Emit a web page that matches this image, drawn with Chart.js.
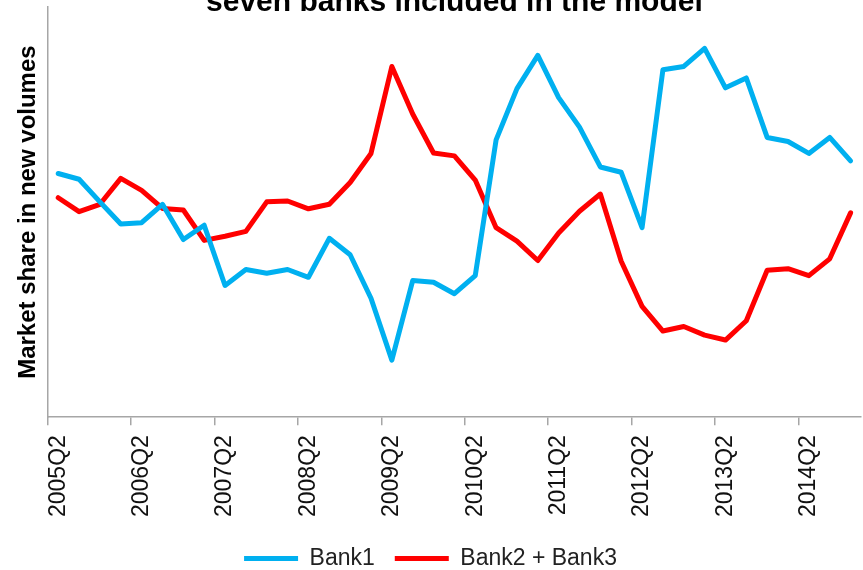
<!DOCTYPE html>
<html lang="en">
<head>
    <meta charset="UTF-8">
    <title>Market share in new volumes</title>
    <script src="https://cdn.jsdelivr.net/npm/chart.js"></script>
    <style>
        body {
            margin: 0;
            background: #fff;
            overflow: hidden;
        }
        .chart-container {
            width: 863px;
            height: 570px;
            position: relative;
        }
    </style>
</head>
<body>
    <div class="chart-container">
        <canvas id="shareChart"></canvas>
    </div>

    <script>
        // quarters 2005Q2 - 2014Q4
        const quarters = [
            '2005Q2', '2005Q3', '2005Q4', '2006Q1', '2006Q2', '2006Q3', '2006Q4', '2007Q1',
            '2007Q2', '2007Q3', '2007Q4', '2008Q1', '2008Q2', '2008Q3', '2008Q4', '2009Q1',
            '2009Q2', '2009Q3', '2009Q4', '2010Q1', '2010Q2', '2010Q3', '2010Q4', '2011Q1',
            '2011Q2', '2011Q3', '2011Q4', '2012Q1', '2012Q2', '2012Q3', '2012Q4', '2013Q1',
            '2013Q2', '2013Q3', '2013Q4', '2014Q1', '2014Q2', '2014Q3', '2014Q4'
        ];

        // values (no scale shown, index 0-100)
        const bank1 = [
            59.4, 58.0, 52.5, 47.1, 47.4, 51.9, 43.3, 46.8,
            32.1, 36.0, 35.1, 36.0, 34.1, 43.6, 39.6, 29.0,
            13.9, 33.3, 32.9, 30.1, 34.5, 67.6, 80.1, 88.2,
            77.9, 70.7, 61.0, 59.7, 46.2, 84.7, 85.5, 89.9,
            80.3, 82.7, 68.2, 67.2, 64.3, 68.2, 62.5
        ];
        const bank2and3 = [
            53.5, 50.1, 51.9, 58.2, 55.3, 50.9, 50.5, 43.1,
            44.1, 45.3, 52.5, 52.7, 50.8, 51.9, 57.2, 64.3,
            85.5, 73.9, 64.4, 63.7, 57.8, 46.2, 42.9, 38.2,
            44.9, 50.2, 54.4, 38.0, 27.0, 21.0, 22.1, 20.0,
            18.8, 23.5, 35.8, 36.2, 34.5, 38.6, 49.8
        ];

        const FONT = "'Liberation Sans', Arial, sans-serif";
        const axisGrey = '#A6A6A6';

        const ctx = document.getElementById('shareChart').getContext('2d');
        new Chart(ctx, {
            type: 'line',
            data: {
                labels: quarters,
                datasets: [{
                    label: 'Bank1',
                    data: bank1,
                    borderColor: '#00B0F0',
                    backgroundColor: '#00B0F0',
                    borderWidth: 5,
                    pointRadius: 0,
                    tension: 0,
                    borderJoinStyle: 'round',
                    borderCapStyle: 'round'
                }, {
                    label: 'Bank2 + Bank3',
                    data: bank2and3,
                    borderColor: '#FF0000',
                    backgroundColor: '#FF0000',
                    borderWidth: 5,
                    pointRadius: 0,
                    tension: 0,
                    borderJoinStyle: 'round',
                    borderCapStyle: 'round'
                }]
            },
            options: {
                responsive: true,
                maintainAspectRatio: false,
                animation: false,
                layout: {
                    padding: { top: 0, right: 2, bottom: -10, left: 0 }
                },
                plugins: {
                    title: {
                        display: true,
                        fullSize: false,
                        text: 'seven banks included in the model',
                        color: '#000',
                        font: { family: FONT, size: 30, weight: 'bold', lineHeight: 0.2 },
                        padding: { top: 0, bottom: 1 }
                    },
                    legend: {
                        position: 'bottom',
                        labels: {
                            color: '#222',
                            font: { family: FONT, size: 23 },
                            usePointStyle: true,
                            pointStyle: 'line',
                            pointStyleWidth: 54,
                            padding: 20
                        }
                    },
                    tooltip: { enabled: false }
                },
                scales: {
                    x: {
                        offset: true,
                        // the empty labels only make room for themselves; drop that side padding
                        afterFit: function (scale) {
                            scale.paddingRight = 0;
                        },
                        grid: {
                            offset: true,
                            drawOnChartArea: false,
                            drawTicks: true,
                            tickLength: 8,
                            lineWidth: 1.5,
                            color: function (c) {
                                return c.index % 4 === 0 ? axisGrey : 'rgba(0,0,0,0)';
                            }
                        },
                        border: { display: true, color: axisGrey, width: 1.5 },
                        ticks: {
                            autoSkip: false,
                            minRotation: 90,
                            maxRotation: 90,
                            padding: 10,
                            color: '#111',
                            font: { family: FONT, size: 23 },
                            callback: function (value, index) {
                                return index % 4 === 0 ? this.getLabelForValue(value) : '';
                            }
                        }
                    },
                    y: {
                        min: 0,
                        max: 100,
                        grid: { display: true, drawOnChartArea: false, drawTicks: false },
                        border: { display: true, color: axisGrey, width: 1.5 },
                        ticks: { display: false },
                        title: {
                            display: true,
                            text: 'Market share in new volumes',
                            color: '#000',
                            font: { family: FONT, size: 24, weight: 'bold' },
                            padding: { top: 14, bottom: 5 }
                        }
                    }
                }
            }
        });
    </script>
</body>
</html>
